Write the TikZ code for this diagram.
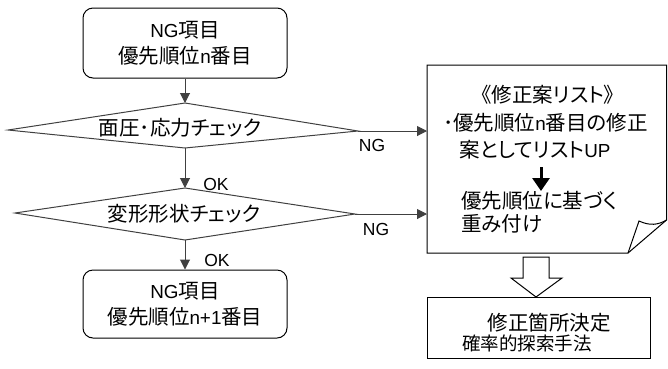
\documentclass[tikz,border=0pt]{standalone}
\usepackage{fontspec}
\setmainfont{Noto Sans CJK JP}[RawFeature=+palt]
\newfontfamily\lat{Liberation Sans}[Scale=0.92]
\usetikzlibrary{arrows.meta}
\tikzset{
  ln/.style={line width=1pt, draw=black!75},
  boxln/.style={line width=1pt, draw=black},
  arr/.style={ln, -{Triangle[length=10pt,width=10pt]}},
  txt/.style={font=\fontsize{20.5}{26}\selectfont, inner sep=0pt, align=center},
  smalltxt/.style={font=\fontsize{18.5}{22}\selectfont, inner sep=0pt},
  lbl/.style={font=\lat\fontsize{19}{19}\selectfont, inner sep=0pt},
}
\begin{document}
\begin{tikzpicture}[x=1pt,y=-1pt]
\useasboundingbox (0,0) rectangle (668,368);
% left flow
\node[boxln, draw, rounded corners=10pt, minimum width=204pt, minimum height=70pt, txt] (top) at (185,43) {{\lat NG}項目\\[0pt]優先順位{\lat n}番目};
\coordinate (d1l) at (8,130);
\coordinate (d1t) at (185,103);
\coordinate (d1r) at (358,131);
\coordinate (d1b) at (185,148);
\draw[ln] (d1l) -- (d1t) -- (d1r) -- (d1b) -- cycle;
\node[txt] (d1txt) at (180,128) {面圧･応力チェック};
\coordinate (d2l) at (15,213);
\coordinate (d2t) at (185,188);
\coordinate (d2r) at (355,214);
\coordinate (d2b) at (185,240);
\draw[ln] (d2l) -- (d2t) -- (d2r) -- (d2b) -- cycle;
\node[txt] (d2txt) at (184,214) {変形形状チェック};
\node[boxln, draw, rounded corners=10pt, minimum width=204pt, minimum height=68pt, txt] (bot) at (185,304) {{\lat NG}項目\\[0pt]優先順位{\lat n+1}番目};
\draw[arr] (top.south) -- (d1t);
\draw[arr] (d1b) -- (d2t);
\draw[arr] (d2b) -- (bot.north);
\node[lbl] (ok1) at (216,184) {OK};
\node[lbl] (ok2) at (217,260) {OK};
% document shape
\coordinate (dtl) at (427,65);
\coordinate (dtr) at (666.5,65);
\coordinate (dfr) at (666.5,220);
\coordinate (dfb) at (628,253);
\coordinate (dfl) at (639,221);
\coordinate (dbl) at (427,253);
\draw[boxln] (dtl) -- (dtr) -- (dfr) -- (dfb) -- (dbl) -- cycle;
\draw[boxln] (dfb) -- (dfl) .. controls (650,226) and (658,225) .. (dfr);
\coordinate (in1) at (427,131);
\coordinate (in2) at (427,214);
\draw[arr] (d1r) -- (in1);
\draw[arr] (d2r) -- (in2);
\node[lbl] (ng1) at (372,145) {NG};
\node[lbl] (ng2) at (376,229) {NG};
\node[txt] (l1) at (548,95) {《修正案リスト》};
\node[txt, anchor=west] (l2) at (443,123) {･優先順位{\lat n}番目の修正};
\node[txt, anchor=west] (l3) at (459,150) {案としてリスト{\lat UP}};
\coordinate (sa1) at (541,167);
\coordinate (sa2) at (541,191);
\draw[line width=3pt, -{Triangle[length=13pt,width=17pt]}] (sa1) -- (sa2);
\node[txt, anchor=west] (l4) at (461,201) {優先順位に基づく};
\node[txt, anchor=west] (l5) at (461,224) {重み付け};
% hollow arrow
\draw[boxln, line join=miter] (523,257) -- (549,257) -- (549,278) -- (562,278) -- (536,297) -- (511,278) -- (523,278) -- cycle;
% decision box
\node[boxln, draw, minimum width=223pt, minimum height=61pt] (dec) at (538.5,327.5) {};
\node[txt] (dec1) at (549,323) {修正箇所決定};
\node[smalltxt] (dec2) at (527,343) {確率的探索手法};
\end{tikzpicture}
\end{document}
